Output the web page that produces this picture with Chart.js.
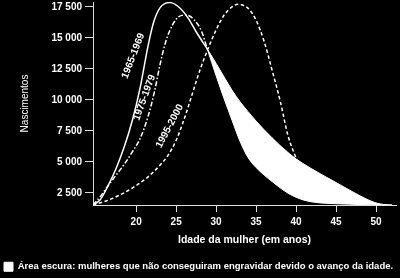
<!DOCTYPE html>
<html><head><meta charset="utf-8">
<script src="https://cdn.jsdelivr.net/npm/chart.js@4/dist/chart.umd.min.js"></script>
<style>html,body{margin:0;padding:0;background:#000;overflow:hidden}canvas{display:block}</style>
</head><body>
<canvas id="c" width="400" height="278" style="width:400px;height:278px"></canvas>
<script>
// ---- data ----
const ages1965 = [14.6, 15.5, 16.5, 17.5, 18.5, 19.5, 20.5, 21.5, 22.2, 23, 24.2, 25.5, 26.5, 27.5, 28.9];
const births1965 = [1530, 1950, 3100, 4500, 6200, 8300, 11000, 14400, 16300, 17450, 17850, 17400, 16600, 15500, 14100];

const ages1975 = [14.6, 15.5, 16.5, 17.5, 18.5, 19.5, 20.5, 21.5, 22.3, 23, 23.7, 24.5, 25.3, 26.2, 27.2, 28.2, 28.9];
const births1975 = [1530, 2200, 3100, 3950, 4800, 5800, 6900, 8700, 10700, 12900, 14700, 16000, 16700, 16850, 16500, 15500, 14100];

const ages1995 = [14.6, 16, 17, 18, 19, 20, 21, 22, 23, 24, 25, 26, 27, 28, 29, 30, 31, 32, 32.7, 33.5, 34.2, 35, 36, 37, 38, 39, 40];
const births1995 = [1530, 1800, 2050, 2350, 2700, 3100, 3550, 4100, 4750, 5550, 6750, 8450, 10450, 12450, 14150, 15650, 16850, 17500, 17720, 17600, 17260, 16430, 14735, 12410, 9955, 7100, 5300];

const whiteAges  = [28.9, 30, 31, 32, 33, 34, 35, 36, 37, 38, 39, 40, 41, 42, 43, 44, 45, 46, 47, 48, 49, 50, 51, 52];
const whiteUpper = [14100, 12950, 11850, 10780, 9850, 9050, 8300, 7600, 6950, 6330, 5760, 5250, 4820, 4430, 4060, 3700, 3340, 2980, 2620, 2270, 1950, 1700, 1570, 1530];
const whiteLower = [14100, 11950, 10100, 8350, 6650, 5350, 4550, 3950, 3420, 2920, 2480, 2150, 1920, 1780, 1700, 1660, 1630, 1610, 1590, 1570, 1555, 1540, 1530, 1530];

const xTicks = [20, 25, 30, 35, 40, 45, 50];
const yTicks = [2500, 5000, 7500, 10000, 12500, 15000, 17500];

const legendText = 'Área escura: mulheres que não conseguiram engravidar devido o avanço da idade.';
const curveLabels = [
  {text: '1965-1969', age: 19.64, births: 13560, angle: -69},
  {text: '1975-1979', age: 21.05, births: 10200, angle: -70},
  {text: '1995-2000', age: 24.2, births: 7890, angle: -62}
];

// ---- chart ----
const FONT = "'Liberation Sans', Arial, Helvetica, sans-serif";
const pts = (xs, ys) => xs.map((x, i) => ({x, y: ys[i]}));
const fmt = v => String(v).replace(/\B(?=(\d{3})+(?!\d))/g, ' ');

const labelPlugin = {
  id: 'curveLabels',
  afterDatasetsDraw(chart) {
    const {ctx, scales: {x, y}} = chart;
    ctx.save();
    ctx.fillStyle = '#fff';
    ctx.font = 'bold 10px ' + FONT;
    ctx.textAlign = 'center';
    ctx.textBaseline = 'middle';
    curveLabels.forEach(l => {
      ctx.save();
      ctx.translate(x.getPixelForValue(l.age), y.getPixelForValue(l.births));
      ctx.rotate(l.angle * Math.PI / 180);
      ctx.fillText(l.text, 0, 0);
      ctx.restore();
    });
    ctx.restore();
  }
};

const lineBase = {pointRadius: 0, fill: false, cubicInterpolationMode: 'monotone', borderColor: '#fff', borderWidth: 1.5};

new Chart(document.getElementById('c'), {
  type: 'line',
  data: {
    datasets: [
      {label: legendText, data: pts(whiteAges, whiteUpper), borderColor: '#fff', backgroundColor: '#fff', borderWidth: 1, fill: '+1', pointRadius: 0, cubicInterpolationMode: 'monotone', order: 2},
      {label: 'lower', data: pts(whiteAges, whiteLower), borderColor: '#fff', backgroundColor: '#fff', borderWidth: 1, fill: false, pointRadius: 0, cubicInterpolationMode: 'monotone', order: 2},
      Object.assign({label: '1965-1969', data: pts(ages1965, births1965), order: 1}, lineBase),
      Object.assign({label: '1975-1979', data: pts(ages1975, births1975), order: 1, borderDash: [5, 2, 1.5, 2]}, lineBase),
      Object.assign({label: '1995-2000', data: pts(ages1995, births1995), order: 1, borderDash: [3.5, 2.5]}, lineBase)
    ]
  },
  options: {
    responsive: false,
    animation: false,
    layout: {padding: {top: 2, right: 4, left: 0, bottom: 0}},
    plugins: {
      tooltip: {enabled: false},
      legend: {
        position: 'bottom', align: 'start', maxHeight: 20,
        labels: {
          color: '#fff', font: {family: FONT, size: 9.5, weight: 'bold'},
          boxWidth: 9, boxHeight: 9, padding: 4,
          filter: item => item.datasetIndex === 0
        }
      }
    },
    scales: {
      x: {
        type: 'linear', min: 14.6, max: 52.5,
        border: {display: true, color: '#ddd', width: 1},
        grid: {display: true, drawOnChartArea: false, drawTicks: true, tickLength: 7, color: '#ddd'},
        ticks: {color: '#fff', font: {family: FONT, size: 10, weight: 'bold'}, padding: 4, maxRotation: 0},
        afterBuildTicks: s => { s.ticks = xTicks.map(v => ({value: v})); },
        afterFit: s => { s.height = 53; s.paddingLeft = 0; s.paddingRight = 0; },
        title: {display: true, text: 'Idade da mulher (em anos)', color: '#fff', font: {family: FONT, size: 10.5, weight: 'bold'}, padding: {top: 0, bottom: 12}}
      },
      y: {
        min: 1530, max: 17900,
        border: {display: true, color: '#ddd', width: 1},
        grid: {display: true, drawOnChartArea: false, drawTicks: true, tickLength: 8, color: '#ddd'},
        ticks: {color: '#fff', font: {family: FONT, size: 10, weight: 'bold'}, padding: 3, callback: v => fmt(v)},
        afterBuildTicks: s => { s.ticks = yTicks.map(v => ({value: v})); },
        afterFit: s => { s.width = 93; s.paddingTop = 0; s.paddingBottom = 0; },
        title: {display: true, text: 'Nascimentos', color: '#fff', font: {family: FONT, size: 10}, padding: {top: 19, bottom: 0}}
      }
    }
  },
  plugins: [labelPlugin]
});
</script>
</body></html>
